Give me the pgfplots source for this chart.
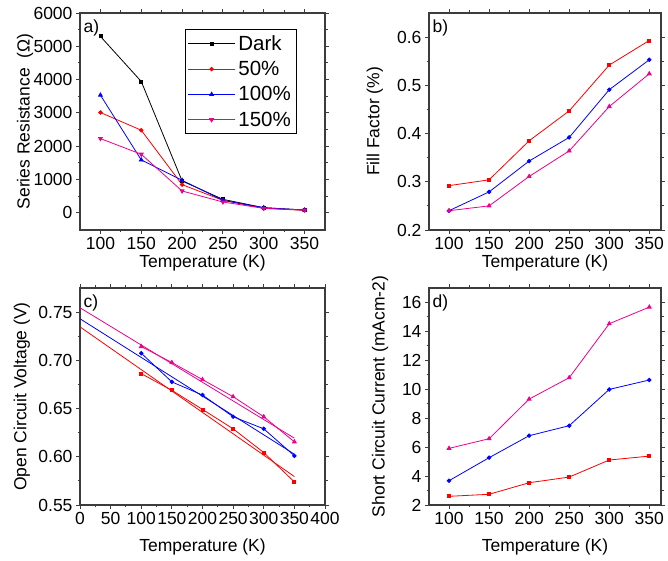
\documentclass[border=0pt]{standalone}
\usepackage{pgfplots}
\pgfplotsset{compat=1.18}
\usepackage{fontspec}
\setmainfont{Liberation Sans}
\definecolor{axgray}{RGB}{60,60,60}
\pgfplotsset{
  every axis/.append style={
    scale only axis,
    /pgf/number format/assume math mode=true,
    /pgf/number format/1000 sep={},
    font=\fontsize{17.5}{21}\selectfont,
    tick label style={font=\fontsize{17.5}{21}\selectfont},
    label style={font=\fontsize{17.5}{21}\selectfont},
    axis line style={axgray, line width=1.1pt},
    tick style={axgray, line width=0.9pt},
    major tick length=4pt,
    minor tick length=2.5pt,
    tick align=outside,
    minor x tick num=1,
    minor y tick num=1,
    every axis plot/.append style={line width=0.8pt, mark size=1.8pt},
  },
}
\begin{document}
\begin{tikzpicture}
\useasboundingbox (0,0) rectangle (668pt,561pt);
% panel a
\begin{axis}[
  at={(80pt,331pt)}, anchor=south west,
  width=245pt, height=217pt,
  xmin=75, xmax=375, ymin=-520, ymax=6000,
  xtick={100,150,...,350}, ytick={0,1000,...,6000},
  xlabel={Temperature (K)}, ylabel={Series Resistance\ \ (Ω)},
  xlabel style={anchor=center, at={(axis description cs:0.5,-0.152)}},
  ylabel style={anchor=center, rotate=0, at={(axis description cs:-0.224,0.5)}},
  legend style={at={(0.429,0.926)}, anchor=north west, draw=black, line width=0.6pt,
    font=\fontsize{20.5}{24}\selectfont, row sep=7.5pt, inner xsep=2.5pt, inner ysep=5pt,
    nodes={inner xsep=3pt, inner ysep=1pt}},
  legend cell align=left,
  legend image code/.code={\draw[mark repeat=2,mark phase=2,#1] plot coordinates {(0cm,0cm) (0.82cm,0cm) (1.64cm,0cm)};},
]
\addplot[black, mark=square*, mark size=1.5pt] coordinates {(100,5297) (150,3943) (200,953) (250,401) (300,150) (350,80)};
\addplot[red, mark=*] coordinates {(100,3010) (150,2478) (200,843) (250,371) (300,130) (350,70)};
\addplot[blue, mark=triangle*, mark size=2.2pt] coordinates {(100,3532) (150,1585) (200,973) (250,371) (300,150) (350,80)};
\addplot[magenta, mark=triangle*, mark options={rotate=180}, mark size=2.2pt] coordinates {(100,2227) (150,1756) (200,652) (250,321) (300,130) (350,80)};
\legend{Dark,50\%,100\%,150\%}
\node[anchor=west] at (rel axis cs:0.0,0.93) {a)};
\end{axis}
% panel b
\begin{axis}[
  at={(429pt,331pt)}, anchor=south west,
  width=232pt, height=217pt,
  xmin=75, xmax=364.6, ymin=0.2, ymax=0.65,
  xtick={100,150,...,350}, ytick={0.2,0.3,0.4,0.5,0.6},
  yticklabel style={/pgf/number format/fixed, /pgf/number format/precision=1},
  xlabel={Temperature (K)}, ylabel={Fill Factor (\%)},
  xlabel style={anchor=center, at={(axis description cs:0.5,-0.152)}},
  ylabel style={anchor=center, at={(axis description cs:-0.233,0.5)}},
]
\addplot[red, mark=square*, mark size=1.5pt] coordinates {(100,0.292) (150,0.304) (200,0.385) (250,0.447) (300,0.542) (350,0.593)};
\addplot[blue, mark=*] coordinates {(100,0.240) (150,0.279) (200,0.343) (250,0.392) (300,0.491) (350,0.553)};
\addplot[magenta, mark=triangle*, mark size=2.2pt] coordinates {(100,0.240) (150,0.250) (200,0.311) (250,0.364) (300,0.456) (350,0.524)};
\node[anchor=west] at (rel axis cs:0.0,0.93) {b)};
\end{axis}
% panel c
\begin{axis}[
  at={(80pt,56pt)}, anchor=south west,
  width=245pt, height=217pt,
  xmin=0, xmax=400, ymin=0.55, ymax=0.775,
  xtick={0,50,...,400}, ytick={0.55,0.60,...,0.76},
  yticklabel style={/pgf/number format/fixed, /pgf/number format/precision=2, /pgf/number format/fixed zerofill},
  xlabel={Temperature (K)}, ylabel={Open Circuit Voltage (V)},
  xlabel style={anchor=center, at={(axis description cs:0.5,-0.194)}},
  ylabel style={anchor=center, at={(axis description cs:-0.237,0.5)}},
]
\addplot[red, mark=square*, mark size=1.5pt] coordinates {(100,0.6862) (150,0.6689) (200,0.6491) (250,0.629) (300,0.6044) (350,0.5739)};
\addplot[red, no marks] coordinates {(0,0.7347) (350,0.5795)};
\addplot[blue, mark=*] coordinates {(100,0.7074) (150,0.6776) (200,0.664) (250,0.6415) (300,0.629) (350,0.601)};
\addplot[blue, no marks] coordinates {(0,0.7431) (350,0.6027)};
\addplot[magenta, mark=triangle*, mark size=2.2pt] coordinates {(100,0.7143) (150,0.6977) (200,0.68) (250,0.6623) (300,0.6415) (350,0.6155)};
\addplot[magenta, no marks] coordinates {(0,0.7545) (350,0.6193)};
\node[anchor=west] at (rel axis cs:0.0,0.93) {c)};
\end{axis}
% panel d
\begin{axis}[
  at={(429pt,56pt)}, anchor=south west,
  width=232pt, height=217pt,
  xmin=75, xmax=364.6, ymin=2, ymax=17,
  xtick={100,150,...,350}, ytick={2,4,...,16},
  xlabel={Temperature (K)}, ylabel={Short Circuit Current (mAcm-2)},
  xlabel style={anchor=center, at={(axis description cs:0.5,-0.194)}},
  ylabel style={anchor=center, at={(axis description cs:-0.211,0.5)}},
]
\addplot[red, mark=square*, mark size=1.5pt] coordinates {(100,2.60) (150,2.74) (200,3.54) (250,3.93) (300,5.11) (350,5.38)};
\addplot[blue, mark=*] coordinates {(100,3.68) (150,5.27) (200,6.79) (250,7.48) (300,9.99) (350,10.64)};
\addplot[magenta, mark=triangle*, mark size=2.2pt] coordinates {(100,5.915) (150,6.58) (200,9.32) (250,10.80) (300,14.53) (350,15.68)};
\node[anchor=west] at (rel axis cs:0.0,0.93) {d)};
\end{axis}
\end{tikzpicture}
\end{document}
